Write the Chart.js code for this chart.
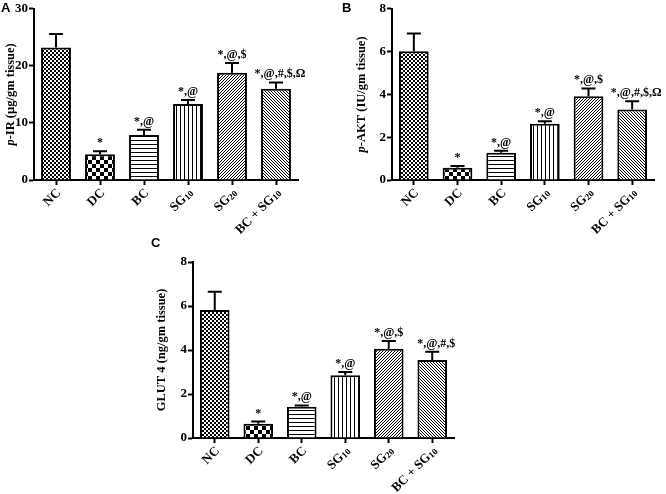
<!DOCTYPE html>
<html><head><meta charset="utf-8">
<script src="https://cdn.jsdelivr.net/npm/chart.js@4.4.0/dist/chart.umd.min.js"></script>
<style>
html,body{margin:0;padding:0;background:#fff;width:666px;height:494px;overflow:hidden}
canvas{position:absolute;display:block}
.lbl{position:absolute;font:bold 13px "Liberation Sans",Arial,sans-serif;color:#000;line-height:13px}
</style></head><body>
<canvas id="cA" width="305" height="250" style="left:0;top:0"></canvas>
<canvas id="cB" width="333" height="250" style="left:333px;top:0"></canvas>
<canvas id="cC" width="320" height="244" style="left:150px;top:250px"></canvas>
<div class="lbl" style="left:1px;top:1px">A</div>
<div class="lbl" style="left:342px;top:1px">B</div>
<div class="lbl" style="left:151px;top:236px">C</div>
<script>
// ---- data ----
const categories = ['NC', 'DC', 'BC', 'SG10', 'SG20', 'BC + SG10'];
const irMeans   = [23.2, 4.5, 7.9, 13.3, 18.8, 16.0];
const irSem     = [2.4, 0.55, 0.9, 0.7, 1.7, 1.1];
const irSig     = ['', '*', '*,@', '*,@', '*,@,$', '*,@,#,$,Ω'];
const irTicks   = [0, 10, 20, 30];
const aktMeans  = [6.02, 0.57, 1.27, 2.63, 3.91, 3.30];
const aktSem    = [0.83, 0.09, 0.10, 0.11, 0.37, 0.38];
const aktSig    = ['', '*', '*,@', '*,@', '*,@,$', '*,@,#,$,Ω'];
const aktTicks  = [0, 2, 4, 6, 8];
const glutMeans = [5.82, 0.65, 1.42, 2.85, 4.06, 3.55];
const glutSem   = [0.83, 0.10, 0.06, 0.15, 0.35, 0.37];
const glutSig   = ['', '*', '*,@', '*,@', '*,@,$', '*,@,#,$'];
const glutTicks = [0, 2, 4, 6, 8];

const SERIF = '"Liberation Serif","Times New Roman",serif';

function tile(size, fn){
  const c = document.createElement('canvas');
  c.width = size; c.height = size;
  const x = c.getContext('2d');
  const img = x.createImageData(size, size);
  for (let j = 0; j < size; j++) for (let i = 0; i < size; i++) {
    const k = (j*size + i)*4; const v = fn(i, j) ? 0 : 255;
    img.data[k] = img.data[k+1] = img.data[k+2] = v; img.data[k+3] = 255;
  }
  x.putImageData(img, 0, 0);
  return document.createElement('canvas').getContext('2d').createPattern(c, 'repeat');
}
const patterns = [
  tile(4, (i,j)=> ((i>>1)+(j>>1))%2===0),         // fine checker
  tile(8, (i,j)=> ((i>>2)+(j>>2))%2===0),         // coarse checker
  tile(4, (i,j)=> j===0),                         // horizontal lines
  tile(4, (i,j)=> i===0),                         // vertical lines
  tile(3, (i,j)=> (i+j)%3===0),                   // "/" diagonals
  tile(3, (i,j)=> ((i-j)%3+3)%3===0)              // "\" diagonals
];

function drawRich(ctx, parts, x, y, align){
  let w = 0;
  parts.forEach(p=>{ctx.font=p.font; w += ctx.measureText(p.t).width;});
  let cx = align==='right' ? x - w : (align==='center' ? x - w/2 : x);
  ctx.textAlign = 'left';
  parts.forEach(p=>{ctx.font=p.font; ctx.fillText(p.t, cx, y + (p.dy||0)); cx += ctx.measureText(p.t).width;});
}
function labelParts(s){
  const parts = []; const re = /(SG)(\d+)/g; let last = 0, m;
  while ((m = re.exec(s))) {
    if (m.index > last) parts.push({t:s.slice(last, m.index), font:'bold 13px '+SERIF});
    parts.push({t:'SG', font:'bold 13px '+SERIF});
    parts.push({t:m[2], font:'bold 9px '+SERIF, dy:2});
    last = re.lastIndex;
  }
  if (last < s.length) parts.push({t:s.slice(last), font:'bold 13px '+SERIF});
  return parts;
}

function build(id, means, sem, sig, ticks, title, g){
  const extras = {
    id:'extras',
    afterDatasetsDraw(chart){
      const ctx = chart.ctx, ys = chart.scales.y, meta = chart.getDatasetMeta(0);
      ctx.save();
      ctx.strokeStyle = '#000'; ctx.lineWidth = 2; ctx.fillStyle = '#000';
      meta.data.forEach((bar, i)=>{
        const top = ys.getPixelForValue(means[i] + sem[i]);
        ctx.beginPath();
        ctx.moveTo(bar.x, bar.y); ctx.lineTo(bar.x, top);
        ctx.moveTo(bar.x - 7, top); ctx.lineTo(bar.x + 7, top);
        ctx.stroke();
        if (sig[i]) {
          ctx.font = 'bold 12px ' + SERIF; ctx.textAlign = 'center'; ctx.textBaseline = 'alphabetic';
          ctx.fillText(sig[i], bar.x + (sig[i].length > 6 ? 4 : 0), top - 5);
        }
      });
      ctx.restore();
    },
    afterDraw(chart){
      const ctx = chart.ctx, xs = chart.scales.x, area = chart.chartArea;
      ctx.save(); ctx.fillStyle = '#000'; ctx.textBaseline = 'middle';
      categories.forEach((c, i)=>{
        const x = xs.getPixelForValue(i);
        ctx.save();
        ctx.translate(x + 3, area.bottom + 11);
        ctx.rotate(-Math.PI/4);
        drawRich(ctx, labelParts(c), 0, 0, 'right');
        ctx.restore();
      });
      ctx.save();
      ctx.translate(g.tx, (area.top + area.bottom)/2);
      ctx.rotate(-Math.PI/2);
      drawRich(ctx, title, 0, 0, 'center');
      ctx.restore();
      ctx.restore();
    }
  };
  new Chart(document.getElementById(id), {
    type:'bar',
    data:{labels:categories, datasets:[{data:means, backgroundColor:patterns, borderColor:'#000', borderWidth:2,
      borderSkipped:'start', barPercentage:0.68, categoryPercentage:1}]},
    options:{
      responsive:false, animation:false, devicePixelRatio:1,
      layout:{padding:{top:g.pt, right:g.pr, left:0, bottom:0}},
      plugins:{legend:{display:false}, tooltip:{enabled:false}},
      scales:{
        x:{offset:true,
           grid:{display:true, drawOnChartArea:false, drawTicks:true, tickLength:5, tickWidth:2, color:'#000', offset:false},
           border:{display:true, color:'#000', width:2},
           ticks:{display:false},
           afterFit(s){ s.height = g.xh; }},
        y:{min:0, max:ticks[ticks.length-1],
           grid:{display:true, drawOnChartArea:false, drawTicks:true, tickLength:5, tickWidth:2, color:'#000'},
           border:{display:true, color:'#000', width:2},
           ticks:{font:{family:SERIF, weight:'bold', size:13}, color:'#000', padding:1},
           afterBuildTicks(s){ s.ticks = ticks.map(v=>({value:v})); },
           afterFit(s){ s.width = g.yw; }}
      }
    },
    plugins:[extras]
  });
}
const B = 'bold 12.5px ' + SERIF, I = 'italic bold 12.5px ' + SERIF;
build('cA', irMeans, irSem, irSig, irTicks,
  [{t:'p', font:I}, {t:'-IR (µg/gm tissue)', font:B}], {pt:6, pr:7, xh:70, yw:34, tx:11});
build('cB', aktMeans, aktSem, aktSig, aktTicks,
  [{t:'p', font:I}, {t:'-AKT (IU/gm tissue)', font:B}], {pt:6, pr:12, xh:70, yw:59, tx:29});
build('cC', glutMeans, glutSem, glutSig, glutTicks,
  [{t:'GLUT 4 (ng/gm tissue)', font:B}], {pt:12, pr:16, xh:56, yw:43, tx:12});
</script>
</body></html>
